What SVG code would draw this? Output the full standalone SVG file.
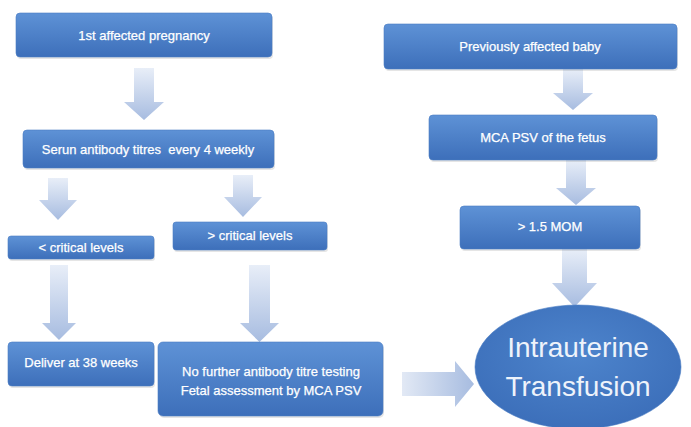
<svg xmlns="http://www.w3.org/2000/svg" width="691" height="427" viewBox="0 0 691 427">
<defs>
<linearGradient id="boxg" x1="0" y1="0" x2="0" y2="1">
<stop offset="0" stop-color="#5e92d6"/>
<stop offset="1" stop-color="#3d6fba"/>
</linearGradient>
<radialGradient id="ellg" cx="0.5" cy="0.4" r="0.6">
<stop offset="0" stop-color="#4d84cc"/>
<stop offset="1" stop-color="#3c6fba"/>
</radialGradient>
<linearGradient id="arrv" x1="0" y1="0" x2="0" y2="1">
<stop offset="0" stop-color="#e8eef8"/>
<stop offset="1" stop-color="#a7bce0"/>
</linearGradient>
<linearGradient id="arrh" x1="0" y1="0" x2="1" y2="0">
<stop offset="0" stop-color="#e2e9f5"/>
<stop offset="1" stop-color="#a7bce0"/>
</linearGradient>
</defs>
<style>
.box{fill:url(#boxg);stroke:#4a7cc2;stroke-width:0.6}
.shadow{fill:#000;opacity:0.10}
.t{font-family:"Liberation Sans",Arial,sans-serif;font-size:13px;fill:#ffffff;text-anchor:middle;stroke:#ffffff;stroke-width:0.25}
.big{font-family:"Liberation Sans",Arial,sans-serif;font-size:28px;fill:#eef3fb;text-anchor:middle}
.av{fill:url(#arrv)}
.ah{fill:url(#arrh)}
</style>
<rect width="691" height="427" fill="#ffffff"/>
<g id="connectors">
<path class="av" d="M134,68 H154 V102 H164 L144,120 L124,102 H134 Z"/>
<path class="av" d="M48,178 H68 V200 H77 L58,220 L39,200 H48 Z"/>
<path class="av" d="M233,175 H253 V197 H262 L243,217 L224,197 H233 Z"/>
<path class="av" d="M50,265 H68 V323 H76 L59,340 L42,323 H50 Z"/>
<path class="av" d="M249,265 H270 V323 H279 L259.5,342 L240,323 H249 Z"/>
<path class="av" d="M563,69 H583 V93 H593 L573,110 L553,93 H563 Z"/>
<path class="av" d="M566,160 H586 V188 H596 L576,205 L556,188 H566 Z"/>
<path class="av" d="M562,249 H587 V283 H597 L574.5,307 L552,283 H562 Z"/>
<path class="ah" d="M402,372 H455 V361 L474,384 L455,407 V396 H402 Z"/>
</g>
<g id="n1">
<rect class="shadow" x="17" y="15" width="256" height="44" rx="4"/>
<rect class="box" x="16" y="13" width="256" height="44" rx="4"/>
<text class="t" x="144" y="40">1st affected pregnancy</text>
</g>
<g id="n2">
<rect class="shadow" x="24" y="132" width="251" height="38" rx="4"/>
<rect class="box" x="23" y="130" width="251" height="38" rx="4"/>
<text class="t" x="148" y="154">Serun antibody titres&#160; every 4 weekly</text>
</g>
<g id="n3">
<rect class="shadow" x="385" y="26" width="293" height="45" rx="4"/>
<rect class="box" x="384" y="24" width="293" height="45" rx="4"/>
<text class="t" x="530" y="51">Previously affected baby</text>
</g>
<g id="n4">
<rect class="shadow" x="430" y="117" width="228" height="45" rx="4"/>
<rect class="box" x="429" y="115" width="228" height="45" rx="4"/>
<text class="t" x="543" y="142">MCA PSV of the fetus</text>
</g>
<g id="n5">
<rect class="shadow" x="461" y="208" width="180" height="43" rx="4"/>
<rect class="box" x="460" y="206" width="180" height="43" rx="4"/>
<text class="t" x="550" y="231">&gt; 1.5 MOM</text>
</g>
<g id="n6">
<rect class="shadow" x="9" y="238" width="146" height="23" rx="3"/>
<rect class="box" x="8" y="236" width="146" height="23" rx="3"/>
<text class="t" x="81" y="252">&lt; critical levels</text>
</g>
<g id="n7">
<rect class="shadow" x="174" y="224" width="154" height="28" rx="3"/>
<rect class="box" x="173" y="222" width="154" height="28" rx="3"/>
<text class="t" x="250" y="240">&gt; critical levels</text>
</g>
<g id="n8">
<rect class="shadow" x="9" y="344" width="146" height="44" rx="4"/>
<rect class="box" x="8" y="342" width="146" height="44" rx="4"/>
<text class="t" x="81" y="367">Deliver at 38 weeks</text>
</g>
<g id="n9">
<rect class="shadow" x="159" y="344" width="225" height="74" rx="5"/>
<rect class="box" x="158" y="342" width="225" height="74" rx="5"/>
<text class="t" x="271" y="376">No further antibody titre testing</text>
<text class="t" x="271" y="395">Fetal assessment by MCA PSV</text>
</g>
<g id="n10">
<ellipse cx="578" cy="367" rx="103" ry="62" fill="url(#ellg)" stroke="#4a7cc2" stroke-width="0.6"/>
<text class="big" x="578" y="357">Intrauterine</text>
<text class="big" x="578" y="396">Transfusion</text>
</g>
</svg>
